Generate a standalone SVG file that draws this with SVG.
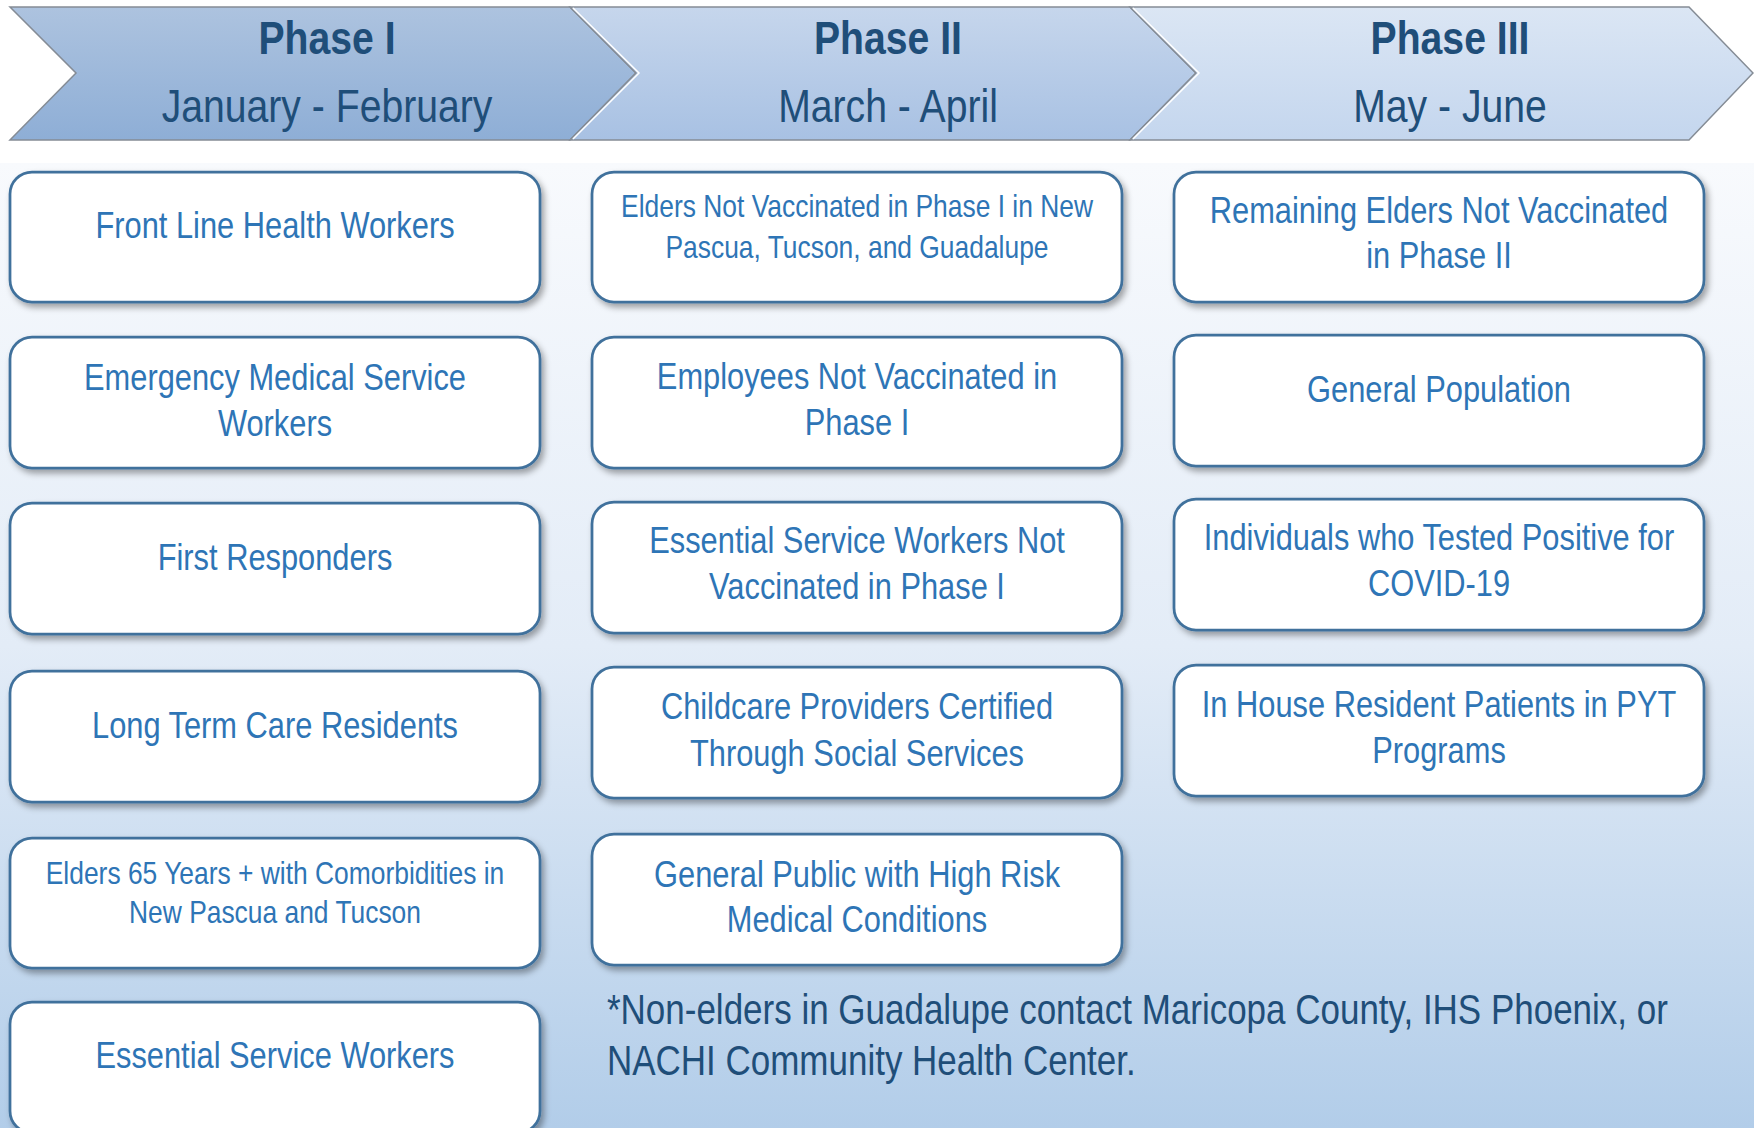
<svg xmlns="http://www.w3.org/2000/svg" width="1754" height="1128" viewBox="0 0 1754 1128">
<defs>
<linearGradient id="bg" x1="0" y1="0" x2="0" y2="1">
<stop offset="0" stop-color="#f8fafd"/>
<stop offset="0.5" stop-color="#e3ecf7"/>
<stop offset="1" stop-color="#b2cde9"/>
</linearGradient>
<linearGradient id="g1" x1="0" y1="0" x2="0" y2="1">
<stop offset="0" stop-color="#adc3df"/>
<stop offset="1" stop-color="#8eaed6"/>
</linearGradient>
<linearGradient id="g2" x1="0" y1="0" x2="0" y2="1">
<stop offset="0" stop-color="#c6d6ec"/>
<stop offset="1" stop-color="#a8c1e3"/>
</linearGradient>
<linearGradient id="g3" x1="0" y1="0" x2="0" y2="1">
<stop offset="0" stop-color="#dbe6f4"/>
<stop offset="1" stop-color="#c4d6ee"/>
</linearGradient>
<filter id="sh" x="-5%" y="-10%" width="115%" height="130%">
<feDropShadow dx="3" dy="4" stdDeviation="3" flood-color="#000" flood-opacity="0.35"/>
</filter>
<style>
.chev { stroke:#858c95; stroke-width:1.5; stroke-linejoin:miter; }
.hl { fill:none; stroke:#ffffff; stroke-width:1.5; }
.box { fill:#ffffff; stroke:#41719c; stroke-width:2.75; filter:url(#sh); }
text { font-family:"Liberation Sans", Arial, sans-serif; transform-box:fill-box; transform:scaleX(0.833); }
.h { font-size:47px; font-weight:bold; fill:#1f4e79; text-anchor:middle; transform-origin:center; }
.d { font-size:47px; fill:#1f4e79; text-anchor:middle; transform-origin:center; }
.t { font-size:37px; fill:#2e75b6; text-anchor:middle; transform-origin:center; }
.s { font-size:32px; fill:#2e75b6; text-anchor:middle; transform-origin:center; transform:scaleX(0.825); }
.fn { font-size:42px; fill:#1f4e79; text-anchor:start; transform-origin:0% 50%; }
</style>
</defs>
<rect x="0" y="0" width="1754" height="1128" fill="#ffffff"/>
<rect x="0" y="163" width="1754" height="965" fill="url(#bg)"/>

<g id="phase1">
<polygon class="chev" fill="url(#g1)" points="10,7 570,7 636,73 570,140 10,140 76,73"/>
<text class="h" x="327" y="54">Phase I</text>
<text class="d" x="327" y="122">January - February</text>
</g>
<g id="phase2">
<polygon class="chev" fill="url(#g2)" points="570,7 1130,7 1196,73 1130,140 570,140 636,73"/>
<polyline class="hl" points="573,8 639,73 573,139"/>
<text class="h" x="888" y="54">Phase II</text>
<text class="d" x="888" y="122">March - April</text>
</g>
<g id="phase3">
<polygon class="chev" fill="url(#g3)" points="1130,7 1689,7 1753,73 1689,140 1130,140 1196,73"/>
<polyline class="hl" points="1133,8 1199,73 1133,139"/>
<text class="h" x="1450" y="54">Phase III</text>
<text class="d" x="1450" y="122">May - June</text>
</g>

<g id="connectors"/>

<g id="p1-front-line">
<rect class="box" x="10" y="172" width="530" height="130" rx="22"/>
<text class="t" x="275" y="238">Front Line Health Workers</text>
</g>
<g id="p1-ems">
<rect class="box" x="10" y="337" width="530" height="131" rx="22"/>
<text class="t" x="275" y="390">Emergency Medical Service</text>
<text class="t" x="275" y="436">Workers</text>
</g>
<g id="p1-first-responders">
<rect class="box" x="10" y="503" width="530" height="131" rx="22"/>
<text class="t" x="275" y="570">First Responders</text>
</g>
<g id="p1-long-term-care">
<rect class="box" x="10" y="671" width="530" height="131" rx="22"/>
<text class="t" x="275" y="738">Long Term Care Residents</text>
</g>
<g id="p1-elders-65">
<rect class="box" x="10" y="838" width="530" height="130" rx="22"/>
<text class="s" x="275" y="884">Elders 65 Years + with Comorbidities in</text>
<text class="s" x="275" y="923">New Pascua and Tucson</text>
</g>
<g id="p1-essential">
<rect class="box" x="10" y="1002" width="530" height="131" rx="22"/>
<text class="t" x="275" y="1068">Essential Service Workers</text>
</g>

<g id="p2-elders">
<rect class="box" x="592" y="172" width="530" height="130" rx="22"/>
<text class="s" x="857" y="217">Elders Not Vaccinated in Phase I in New</text>
<text class="s" x="857" y="258">Pascua, Tucson, and Guadalupe</text>
</g>
<g id="p2-employees">
<rect class="box" x="592" y="337" width="530" height="131" rx="22"/>
<text class="t" x="857" y="389">Employees Not Vaccinated in</text>
<text class="t" x="857" y="435">Phase I</text>
</g>
<g id="p2-essential">
<rect class="box" x="592" y="502" width="530" height="131" rx="22"/>
<text class="t" x="857" y="553">Essential Service Workers Not</text>
<text class="t" x="857" y="599">Vaccinated in Phase I</text>
</g>
<g id="p2-childcare">
<rect class="box" x="592" y="667" width="530" height="131" rx="22"/>
<text class="t" x="857" y="719">Childcare Providers Certified</text>
<text class="t" x="857" y="766">Through Social Services</text>
</g>
<g id="p2-general-public">
<rect class="box" x="592" y="834" width="530" height="131" rx="22"/>
<text class="t" x="857" y="887">General Public with High Risk</text>
<text class="t" x="857" y="932">Medical Conditions</text>
</g>

<g id="p3-remaining-elders">
<rect class="box" x="1174" y="172" width="530" height="130" rx="22"/>
<text class="t" x="1439" y="223">Remaining Elders Not Vaccinated</text>
<text class="t" x="1439" y="268">in Phase II</text>
</g>
<g id="p3-general-population">
<rect class="box" x="1174" y="335" width="530" height="131" rx="22"/>
<text class="t" x="1439" y="402">General Population</text>
</g>
<g id="p3-covid-positive">
<rect class="box" x="1174" y="499" width="530" height="131" rx="22"/>
<text class="t" x="1439" y="550">Individuals who Tested Positive for</text>
<text class="t" x="1439" y="596">COVID-19</text>
</g>
<g id="p3-pyt">
<rect class="box" x="1174" y="665" width="530" height="131" rx="22"/>
<text class="t" x="1439" y="717">In House Resident Patients in PYT</text>
<text class="t" x="1439" y="763">Programs</text>
</g>

<g id="footnote">
<text class="fn" x="607" y="1024">*Non-elders in Guadalupe contact Maricopa County, IHS Phoenix, or</text>
<text class="fn" x="607" y="1075">NACHI Community Health Center.</text>
</g>
</svg>
